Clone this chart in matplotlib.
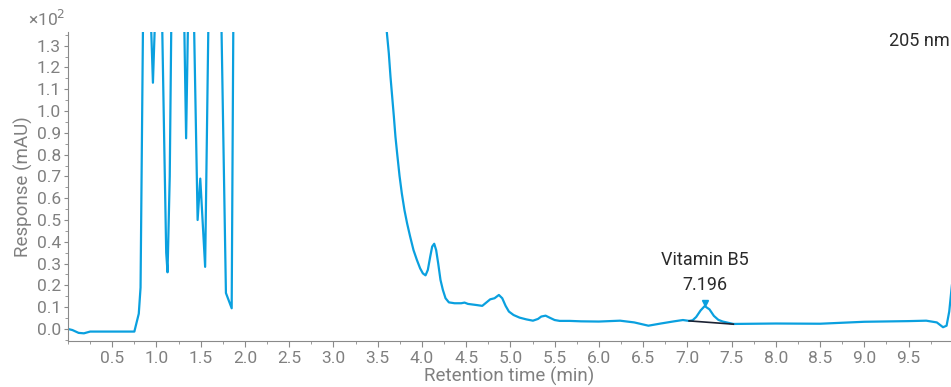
import numpy as np
import matplotlib.pyplot as plt
from matplotlib.ticker import MultipleLocator, FormatStrFormatter

plt.rcParams['font.family'] = ['Roboto', 'DejaVu Sans']

# retention time (min) and response (x10^2 mAU); 1.5 = off scale (clipped)
rt = [0.0, 0.05, 0.12, 0.18, 0.25, 0.5, 0.75, 0.80, 0.82, 0.85,
      0.93, 0.96, 0.99, 1.06, 1.09, 1.11, 1.125, 1.15, 1.17,
      1.31, 1.335, 1.36, 1.42, 1.465, 1.495, 1.55, 1.59,
      1.73, 1.785, 1.85, 1.87, 3.58,
      3.603, 3.626, 3.645, 3.664, 3.683, 3.701, 3.720, 3.747, 3.773, 3.803,
      3.833, 3.867, 3.905, 3.943, 3.980, 4.011, 4.041, 4.067, 4.094, 4.116,
      4.139, 4.161, 4.184, 4.210, 4.237, 4.267, 4.305, 4.369, 4.444, 4.482,
      4.520, 4.614, 4.682, 4.727, 4.772, 4.821, 4.870, 4.908, 4.946, 4.983,
      5.036, 5.104, 5.180, 5.255, 5.312, 5.349, 5.398, 5.443, 5.500, 5.557,
      5.670, 5.80, 6.00, 6.24, 6.40, 6.56, 6.70, 6.85, 6.95, 7.02, 7.06,
      7.10, 7.15, 7.196, 7.25, 7.30, 7.35, 7.40, 7.52, 8.00, 8.50, 9.00,
      9.50, 9.70, 9.82, 9.89, 9.93, 9.96, 9.99]
resp = [0.0, -0.005, -0.018, -0.02, -0.012, -0.012, -0.012, 0.07, 0.19, 1.5,
        1.5, 1.13, 1.5, 1.5, 0.80, 0.35, 0.26, 0.70, 1.5,
        1.5, 0.875, 1.5, 1.5, 0.50, 0.69, 0.285, 1.5,
        1.5, 0.165, 0.095, 1.5, 1.5,
        1.364, 1.265, 1.157, 1.066, 0.975, 0.882, 0.806, 0.703, 0.622, 0.545,
        0.484, 0.424, 0.362, 0.317, 0.278, 0.255, 0.246, 0.271, 0.332, 0.378,
        0.391, 0.362, 0.301, 0.225, 0.179, 0.141, 0.122, 0.118, 0.118, 0.121,
        0.115, 0.110, 0.106, 0.121, 0.136, 0.141, 0.156, 0.141, 0.106, 0.080,
        0.064, 0.052, 0.044, 0.038, 0.046, 0.057, 0.061, 0.052, 0.041, 0.037,
        0.037, 0.035, 0.034, 0.038, 0.030, 0.015, 0.025, 0.035, 0.041, 0.037, 0.040,
        0.055, 0.085, 0.105, 0.090, 0.060, 0.042, 0.034, 0.023, 0.025, 0.024, 0.033,
        0.036, 0.038, 0.030, 0.008, 0.015, 0.080, 0.200]

peak_rt = 7.196
peak_resp = 0.105
peak_name = "Vitamin B5"
base_rt = [7.02, 7.52]
base_resp = [0.037, 0.022]

blue = '#0aa0df'
grey = '#808080'

fig = plt.figure(figsize=(9.51, 3.87), dpi=100)
ax = fig.add_axes([0.0715, 0.119, 0.9285, 0.799])

ax.plot(rt, resp, color=blue, lw=1.6, solid_joinstyle='round')
ax.plot(base_rt, base_resp, color='#1c2233', lw=1.2)
ax.plot([peak_rt], [peak_resp + 0.012], marker='v', color=blue, ms=5)
ax.annotate(f"{peak_name}\n{peak_rt:.3f}", (peak_rt, peak_resp), xytext=(0, 9),
            textcoords='offset points', ha='center', va='bottom',
            fontsize=13, color='#2a2a2a', linespacing=1.5)

ax.set_xlim(0, 9.98)
ax.set_ylim(-0.055, 1.364)
ax.set_xticks(np.arange(0.5, 9.6, 0.5))
ax.set_yticks(np.arange(0, 1.31, 0.1))
ax.xaxis.set_minor_locator(MultipleLocator(0.25))
ax.yaxis.set_minor_locator(MultipleLocator(0.05))
ax.xaxis.set_major_formatter(FormatStrFormatter('%.1f'))
ax.yaxis.set_major_formatter(FormatStrFormatter('%.1f'))

for s in ['top', 'right']:
    ax.spines[s].set_visible(False)
for s in ['left', 'bottom']:
    ax.spines[s].set_color('#8a8a8a')
ax.tick_params(which='major', length=4, color='#8a8a8a', labelsize=12.5,
               labelcolor=grey, pad=3)
ax.tick_params(axis='y', which='major', length=3, pad=2)
ax.tick_params(which='minor', length=2, color='#8a8a8a')

ax.set_xlabel("Retention time (min)", fontsize=13.5, color=grey, labelpad=1)
ax.set_ylabel("Response (mAU)", fontsize=13.5, color=grey, labelpad=3)
fig.text(0.029, 0.925, "×10$^2$", fontsize=12.5, color=grey, ha='left', va='bottom')
fig.text(0.999, 0.895, "205 nm", fontsize=13, color='#2a2a2a', ha='right', va='center')

fig.savefig('out.png', dpi=100)
